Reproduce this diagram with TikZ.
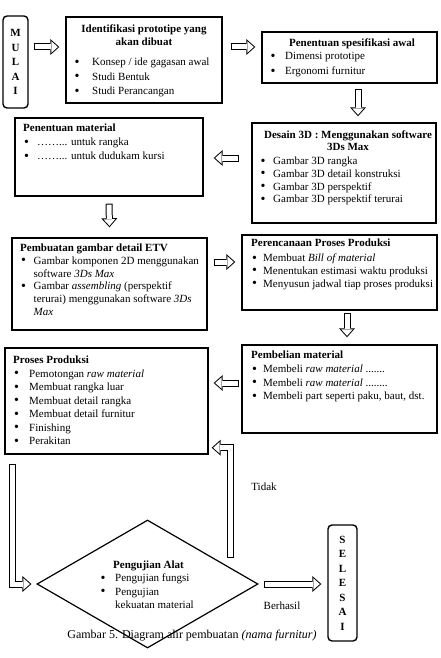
\documentclass[tikz,border=0pt]{standalone}
\usepackage{fontspec}
\setmainfont{Liberation Serif}
\usetikzlibrary{positioning,shapes.geometric,arrows.meta,calc}
\newcommand{\setfs}[1]{\fontsize{11}{#1}\selectfont}
\newcommand{\bigdot}{{\fontsize{14}{11}\selectfont\raisebox{-0.6pt}{\textbullet}}}
\newcommand{\bitem}[2][14pt]{\makebox[#1][l]{\hspace{0.8pt}\bigdot}#2}
\newcommand{\bcont}[2][14pt]{\hspace*{#1}#2}

\begin{document}
\begin{tikzpicture}[x=1pt, y=-1pt,
    % Box styles
    procbox/.style={draw, line width=1.4pt, inner sep=0pt},
    endbox/.style={draw, line width=1.4pt, rounded corners=4pt, inner sep=0pt, align=center, font=\bfseries\setfs{14.5}},
    decision/.style={diamond, draw, line width=1.2pt, inner sep=0pt},
    % Text styles
    boxtext/.style={anchor=north west, align=left, inner sep=0pt},
    boxtitle/.style={anchor=north, align=center, inner sep=0pt, font=\bfseries\setfs{13}},
    flowlabel/.style={font=\setfs{13}, inner sep=0pt},
    % Hollow block arrows
    blockarrow/.style={draw=black, line width=7pt, -{Triangle[length=9pt, width=16pt, line width=0pt]},
        postaction={draw=white, line width=5pt, shorten <=1pt, shorten >=1.5pt,
            -{Triangle[length=6.5pt, width=11.6pt, line width=0pt]}}},
]
\useasboundingbox (0,0) rectangle (440,658);

% Rows and columns of the arrows
\coordinate (row1) at (0,47);
\coordinate (col3) at (358,0);
\coordinate (row4) at (0,158);
\coordinate (row6) at (0,262);
\coordinate (col7) at (347,0);
\coordinate (row8) at (0,383);

% Start and end
\node[endbox, minimum width=25pt, minimum height=92pt] (mulai) at (15.5,62) {M\\U\\L\\A\\I};
\node[endbox, minimum width=29pt, minimum height=116pt] (selesai) at (342.5,583) {S\\E\\L\\E\\S\\A\\I};

% Process boxes
\node[procbox, minimum width=156pt, minimum height=86pt] (ident) at (144,60) {};
\node[procbox, minimum width=175pt, minimum height=51pt] (spec) at (349.5,57.5) {};
\node[procbox, minimum width=184pt, minimum height=100pt] (desain) at (344,173) {};
\node[procbox, minimum width=188pt, minimum height=78pt] (material) at (109,157) {};
\node[procbox, minimum width=195pt, minimum height=92pt] (etv) at (109.5,284) {};
\node[procbox, minimum width=195pt, minimum height=75pt] (perenc) at (339.5,272.5) {};
\node[procbox, minimum width=195pt, minimum height=88pt] (pembelian) at (339.5,389) {};
\node[procbox, minimum width=203pt, minimum height=106pt] (proses) at (106.5,401) {};
\node[decision, minimum width=221pt, minimum height=128pt] (uji) at (147.5,584) {};

% Box contents
\node[boxtitle] (ident-title) at (144,23.4) {\strut Identifikasi prototipe yang\\akan dibuat};
\node[boxtext, font=\setfs{14.5}] (ident-list) at (73.5,55.3)
    {\strut\bitem[18.5pt]{Konsep / ide gagasan awal}\\ \bitem[18.5pt]{Studi Bentuk}\\ \bitem[18.5pt]{Studi Perancangan}};

\node[boxtitle] (spec-title) at (352,37.4) {\strut Penentuan spesifikasi awal};
\node[boxtext, font=\setfs{15}] (spec-list) at (269.5,49)
    {\strut\bitem[15.5pt]{Dimensi prototipe}\\ \bitem[15.5pt]{Ergonomi furnitur}};

\node[boxtitle, font=\bfseries\setfs{12}] (desain-title) at (348,130) {\strut Desain 3D : Menggunakan software\\3Ds Max};
\node[boxtext, font=\setfs{12.7}] (desain-list) at (259.5,155.6)
    {\strut\bitem[13.5pt]{Gambar 3D rangka}\\ \bitem[13.5pt]{Gambar 3D detail konstruksi}\\
     \bitem[13.5pt]{Gambar 3D perspektif}\\ \bitem[13.5pt]{Gambar 3D perspektif terurai}};

\node[boxtext, font=\setfs{14}] (material-txt) at (23,121.7)
    {\strut\textbf{Penentuan material}\\ \bitem{……... untuk rangka}\\ \bitem{……... untuk dudukam kursi}};

\node[boxtext, font=\setfs{12.7}] (etv-txt) at (20,242.6)
    {\strut\textbf{Pembuatan gambar detail ETV}\\ \bitem[13.5pt]{Gambar komponen 2D menggunakan}\\
     \bcont[13.5pt]{software \textit{3Ds Max}}\\ \bitem[13.5pt]{Gambar \textit{assembling} (perspektif}\\
     \bcont[13.5pt]{terurai) menggunakan software \textit{3Ds}}\\ \bcont[13.5pt]{\textit{Max}}};

\node[boxtext, font=\setfs{12.8}] (perenc-txt) at (251,237.5)
    {\strut\textbf{Perencanaan Proses Produksi}\\[2pt] \bitem[12pt]{Membuat \textit{Bill of material}}\\
     \bitem[12pt]{Menentukan estimasi waktu produksi}\\ \bitem[12pt]{Menyusun jadwal tiap proses produksi}};

\node[boxtext, font=\setfs{13.7}] (pembelian-txt) at (251,349)
    {\strut\textbf{Pembelian material}\\ \bitem[12pt]{Membeli \textit{raw material} .......}\\
     \bitem[12pt]{Membeli \textit{raw material} ........}\\ \bitem[12pt]{Membeli part seperti paku, baut, dst.}};

\node[boxtext, font=\setfs{13.5}] (proses-txt) at (13,354)
    {\strut\textbf{Proses Produksi}\\ \bitem[16pt]{Pemotongan \textit{raw material}}\\ \bitem[16pt]{Membuat rangka luar}\\
     \bitem[16pt]{Membuat detail rangka}\\ \bitem[16pt]{Membuat detail furnitur}\\ \bitem[16pt]{Finishing}\\ \bitem[16pt]{Perakitan}};

\node[boxtext, font=\setfs{13.3}] (uji-txt) at (99.5,559)
    {\strut\hspace*{13.5pt}\textbf{Pengujian Alat}\\ \bitem[15.5pt]{Pengujian fungsi}\\ \bitem[15.5pt]{Pengujian}\\ \bcont[15.5pt]{kekuatan material}};

% Arrows
\draw[blockarrow] ($(mulai.east |- row1)+(5pt,0)$) -- ($(ident.west |- row1)+(-6pt,0)$);
\draw[blockarrow] ($(ident.east |- row1)+(8pt,0)$) -- ($(spec.west |- row1)+(-6pt,0)$);
\draw[blockarrow] ($(spec.south -| col3)+(0,-5pt)$) -- ($(desain.north -| col3)+(0,6pt)$);
\draw[blockarrow] ($(desain.west |- row4)+(-12pt,0)$) -- ($(material.east |- row4)+(10pt,0)$);
\draw[blockarrow] ($(material.south)+(0,-7pt)$) -- ($(etv.north)+(0,10pt)$);
\draw[blockarrow] ($(etv.east |- row6)+(6pt,0)$) -- ($(perenc.west |- row6)+(-6pt,0)$);
\draw[blockarrow] ($(perenc.south -| col7)+(0,-2pt)$) -- ($(pembelian.north -| col7)+(0,7pt)$);
\draw[blockarrow] ($(pembelian.west |- row8)+(-2pt,0)$) -- ($(proses.east |- row8)+(5pt,0)$);
\draw[blockarrow] ($(proses.south west)+(8pt,-9pt)$) |- ($(uji.west)+(-5pt,0)$);
\draw[blockarrow] ($(uji.center)+(82.5pt,26pt)$) |- ($(proses.south east)+(3pt,7pt)$);
\draw[blockarrow] ($(uji.east)+(5pt,0)$) -- ($(selesai.west |- uji.east)+(-6pt,0)$);

% Arrow labels
\node[flowlabel] (tidak) at (264,487) {Tidak};
\node[flowlabel] (berhasil) at (282,606) {Berhasil};

% Caption
\node[font=\fontsize{12}{14}\selectfont, inner sep=0pt] (caption) at (192,636)
    {Gambar 5. Diagram alir pembuatan \textit{(nama furnitur)}};

\end{tikzpicture}
\end{document}
